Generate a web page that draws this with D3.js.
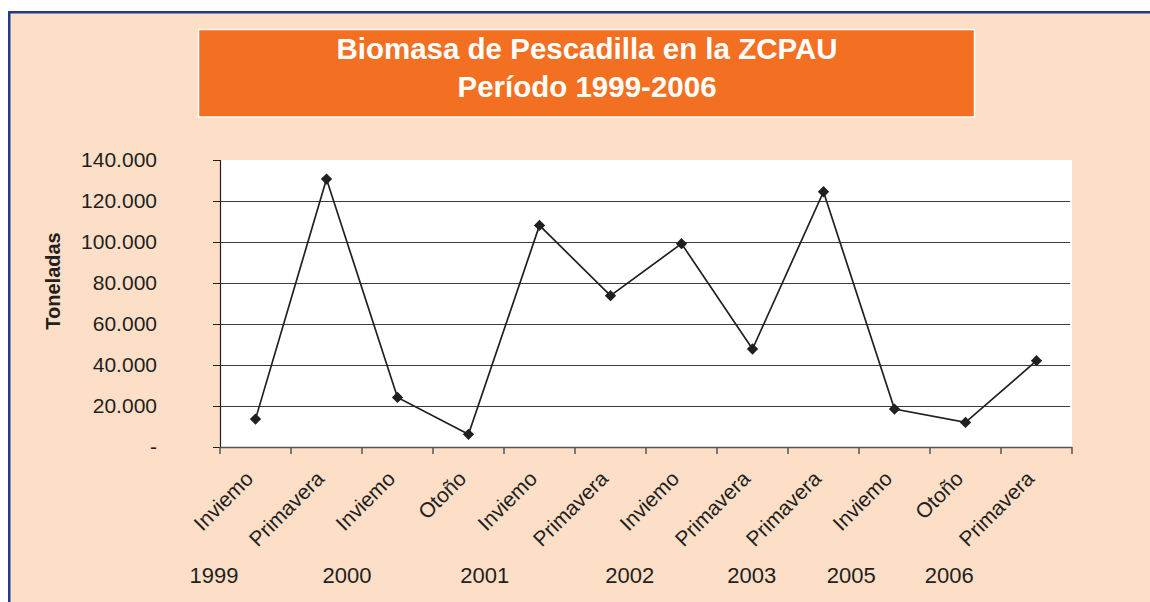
<!DOCTYPE html>
<html>
<head>
    <meta charset="utf-8">
    <title>Biomasa de Pescadilla en la ZCPAU</title>
    <script src="https://d3js.org/d3.v7.min.js"></script>
    <style>
        body { margin: 0; background: #ffffff; }
        svg { display: block; font-family: "Liberation Sans", Arial, sans-serif; }
    </style>
</head>
<body>
    <div id="chart"></div>

    <script>

        // Datos
        var categorias = ["Inviemo", "Primavera", "Inviemo", "Otoño", "Inviemo", "Primavera",
                          "Inviemo", "Primavera", "Primavera", "Inviemo", "Otoño", "Primavera"];
        var toneladas = [13600, 130700, 24200, 6200, 108100, 73800, 99200, 47800, 124500, 18500, 12000, 42100];
        var anios = ["1999", "2000", "2001", "2002", "2003", "2005", "2006"];
        var ticksY = [0, 20000, 40000, 60000, 80000, 100000, 120000, 140000];
        var titulo = ["Biomasa de Pescadilla en la ZCPAU", "Período 1999-2006"];

        // Configuración
        var width = 1150, height = 602;
        var plot = { left: 220, right: 1072, top: 160, bottom: 447 };
        // posición de los años, en unidades de categoría (cajas de texto sueltas en el original)
        var posAnios = [-0.085, 1.79, 3.73, 5.77, 7.49, 8.89, 10.27];

        var svg = d3.select("#chart")
            .append("svg")
            .attr("width", width)
            .attr("height", height);

        // fondo y borde azul
        svg.append("rect")
            .attr("x", 8).attr("y", 11)
            .attr("width", width - 8).attr("height", height - 11)
            .attr("fill", "#fddec7");
        svg.append("rect")
            .attr("x", 8).attr("y", 11)
            .attr("width", width - 8).attr("height", 2.5)
            .attr("fill", "#22398c");
        svg.append("rect")
            .attr("x", 8).attr("y", 11)
            .attr("width", 2.5).attr("height", height - 11)
            .attr("fill", "#22398c");

        // título
        svg.append("rect")
            .attr("x", 198.5).attr("y", 29.5)
            .attr("width", 776).attr("height", 87.5)
            .attr("fill", "#f37022")
            .attr("stroke", "#ffffff")
            .attr("stroke-width", 1.5);
        svg.selectAll("text.titulo")
            .data(titulo)
            .enter()
            .append("text")
            .attr("class", "titulo")
            .attr("x", 587)
            .attr("y", function (d, i) { return 58.5 + i * 38; })
            .attr("text-anchor", "middle")
            .attr("fill", "#ffffff")
            .attr("font-size", "29.5px")
            .attr("font-weight", "bold")
            .text(function (d) { return d; });

        // área de trazado
        svg.append("rect")
            .attr("x", plot.left).attr("y", plot.top)
            .attr("width", plot.right - plot.left).attr("height", plot.bottom - plot.top)
            .attr("fill", "#ffffff");

        var x = d3.scaleBand()
            .domain(d3.range(categorias.length))
            .range([plot.left, plot.right]);
        var xIdx = d3.scaleLinear()
            .domain([0, categorias.length])
            .range([plot.left, plot.right]);
        var y = d3.scaleLinear()
            .domain([0, 140000])
            .range([plot.bottom, plot.top]);

        var loc = d3.formatLocale({ decimal: ",", thousands: ".", grouping: [3], currency: ["", ""] });
        var fmt = loc.format(",d");

        // líneas de división
        svg.selectAll("line.grid")
            .data(ticksY.filter(function (d) { return d > 0 && d < 140000; }))
            .enter()
            .append("line")
            .attr("class", "grid")
            .attr("x1", plot.left).attr("x2", plot.right - 2)
            .attr("y1", function (d) { return Math.round(y(d)) + 0.5; })
            .attr("y2", function (d) { return Math.round(y(d)) + 0.5; })
            .attr("stroke", "#3c3c3c")
            .attr("stroke-width", 1.1);

        // eje Y
        var ejeY = svg.append("g")
            .attr("transform", "translate(" + plot.left + ",0)")
            .call(d3.axisLeft(y)
                .tickValues(ticksY)
                .tickSize(7)
                .tickPadding(56)
                .tickFormat(function (d) { return d === 0 ? "-" : fmt(d); }));
        ejeY.select(".domain").attr("stroke", "#231f20").attr("stroke-width", 1.2);
        ejeY.selectAll(".tick line").attr("stroke", "#231f20");
        ejeY.selectAll(".tick text")
            .attr("font-size", "21px")
            .attr("font-family", "Liberation Sans, Arial, sans-serif")
            .attr("fill", "#231f20");

        // eje X
        var ejeX = svg.append("g")
            .attr("transform", "translate(0," + plot.bottom + ")");
        ejeX.append("line")
            .attr("x1", plot.left).attr("x2", plot.right)
            .attr("y1", 0.5).attr("y2", 0.5)
            .attr("stroke", "#555555")
            .attr("stroke-width", 1.5);
        ejeX.selectAll("line.tick")
            .data(d3.range(categorias.length + 1))
            .enter()
            .append("line")
            .attr("class", "tick")
            .attr("x1", function (d) { return xIdx(d); })
            .attr("x2", function (d) { return xIdx(d); })
            .attr("y1", 0).attr("y2", 7)
            .attr("stroke", "#555555")
            .attr("stroke-width", 1.5);

        // etiquetas de categoría
        svg.selectAll("text.cat")
            .data(categorias)
            .enter()
            .append("text")
            .attr("class", "cat")
            .attr("transform", function (d, i) {
                return "translate(" + (x(i) + x.bandwidth() / 2 - 1) + "," + (plot.bottom + 33) + ") rotate(-45)";
            })
            .attr("text-anchor", "end")
            .attr("font-size", "21px")
            .attr("fill", "#231f20")
            .text(function (d) { return d; });

        // años
        svg.selectAll("text.anio")
            .data(anios)
            .enter()
            .append("text")
            .attr("class", "anio")
            .attr("x", function (d, i) { return xIdx(posAnios[i]); })
            .attr("y", 583)
            .attr("text-anchor", "middle")
            .attr("font-size", "22px")
            .attr("fill", "#231f20")
            .text(function (d) { return d; });

        // título del eje
        svg.append("text")
            .attr("transform", "translate(60,281) rotate(-90)")
            .attr("text-anchor", "middle")
            .attr("font-size", "20px")
            .attr("font-weight", "bold")
            .attr("fill", "#231f20")
            .text("Toneladas");

        // serie
        var linea = d3.line()
            .x(function (d, i) { return x(i) + x.bandwidth() / 2; })
            .y(function (d) { return y(d); });

        svg.append("path")
            .datum(toneladas)
            .attr("d", linea)
            .attr("fill", "none")
            .attr("stroke", "#231f20")
            .attr("stroke-width", 1.7);

        svg.selectAll("path.marca")
            .data(toneladas)
            .enter()
            .append("path")
            .attr("class", "marca")
            .attr("d", d3.symbol(d3.symbolSquare, 64))
            .attr("transform", function (d, i) {
                return "translate(" + (x(i) + x.bandwidth() / 2) + "," + y(d) + ") rotate(45)";
            })
            .attr("fill", "#231f20");

    </script>
</body>
</html>
